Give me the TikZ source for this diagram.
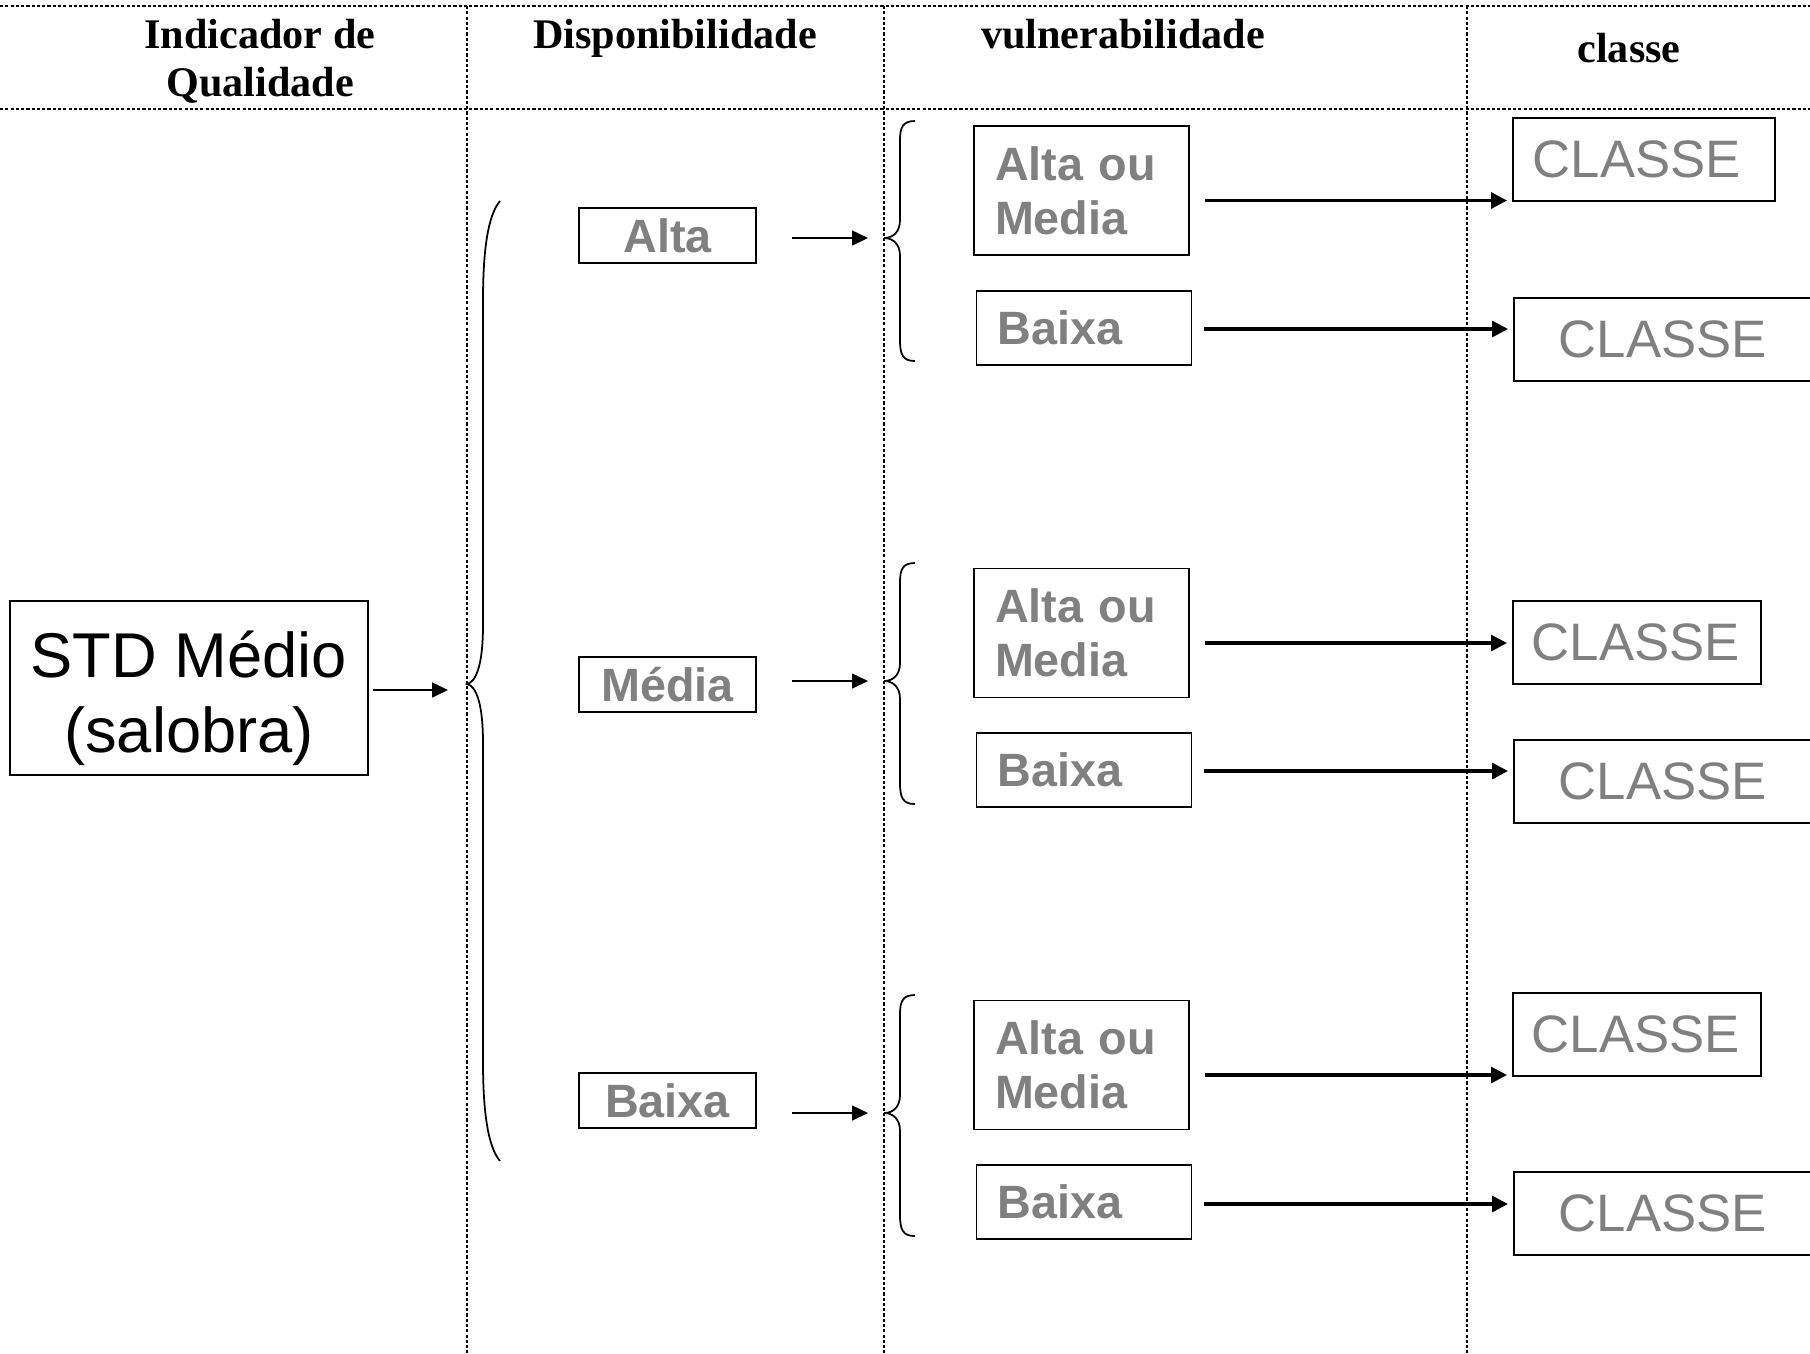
\documentclass[tikz,border=0pt]{standalone}
\usepackage{fontspec}
\setmainfont{Liberation Sans}
\newfontfamily\headfont{Liberation Serif}
\usetikzlibrary{arrows.meta,calc}
\definecolor{boxgray}{RGB}{128,128,128}

\begin{document}
\begin{tikzpicture}[
  grid/.style={line width=0.6pt, dash pattern=on 0.9pt off 0.6pt},
  head/.style={font=\headfont\bfseries\fontsize{12}{13.7}\selectfont, align=center},
  level/.style={draw, line width=0.5pt, inner sep=0pt, minimum width=1.77cm, minimum height=0.55cm,
    text=boxgray, font=\bfseries\fontsize{13.3}{15.4}\selectfont},
  vul/.style={draw, line width=0.5pt, inner xsep=0.21cm, inner ysep=0pt, text width=1.73cm, align=left,
    text=boxgray, font=\bfseries\fontsize{13.3}{15.4}\selectfont},
  cls/.style={draw, line width=0.5pt, inner ysep=0pt, minimum height=0.83cm, anchor=west, align=left,
    text=boxgray, font=\fontsize{15}{18}\selectfont},
  arr/.style={-{Triangle[length=0.16cm,width=0.15cm]}, line width=0.45pt},
  thickarr/.style={-{Triangle[length=0.16cm,width=0.16cm]}, line width=0.9pt},
  brace/.style={line width=0.5pt}
]
  \clip (0,0) rectangle (18.10,-13.53);

  % table lines
  \draw[grid] (0,-0.06) -- (18.10,-0.06);
  \draw[grid] (0,-1.09) -- (18.10,-1.09);
  \draw[grid] (4.67,-0.06) -- (4.67,-13.53);
  \draw[grid] (8.84,-0.06) -- (8.84,-13.53);
  \draw[grid] (14.67,-0.06) -- (14.67,-13.53);

  % headers
  \node[head] (hInd) at (2.60,-0.61) {Indicador de\\Qualidade};
  \node[head] (hDisp) at (6.75,-0.38) {Disponibilidade};
  \node[head] (hVul) at (11.23,-0.34) {vulnerabilidade};
  \node[head] (hCls) at (16.29,-0.48) {classe};

  % quality indicator
  \node[draw, line width=0.5pt, minimum width=3.58cm, minimum height=1.74cm, inner sep=0pt] (std) at (1.89,-6.88) {};
  \node[align=center, font=\fontsize{18}{21.3}\selectfont] (stdText) at ($(std)+(0,-0.10)$) {STD Médio\\(salobra)};

  % big brace
  \coordinate (bigTip) at (4.67,-6.84);
  \draw[brace] (5.00,-2.01) .. controls (4.88,-2.15) and (4.83,-2.50) .. (4.83,-3.00)
    -- (4.83,-6.25) .. controls (4.83,-6.65) and (4.76,-6.82) .. (bigTip)
    .. controls (4.76,-6.86) and (4.83,-7.03) .. (4.83,-7.43)
    -- (4.83,-10.62) .. controls (4.83,-11.12) and (4.88,-11.47) .. (5.00,-11.61);
  \draw[arr, shorten >=0.19cm] ($(std.east)+(0.04,-0.02)$) -- ($(std.east -| bigTip)+(0,-0.02)$);

  % availability
  \node[level] (alta) at (6.675,-2.355) {Alta};
  \node[level] (media) at (6.675,-6.845) {Média};
  \node[level] (baixa) at (6.675,-11.005) {Baixa};

  % small braces
  \coordinate (tipA) at (8.84,-2.38);
  \coordinate (tipM) at (8.84,-6.81);
  \coordinate (tipB) at (8.84,-11.13);
  \draw[brace] (9.15,-1.21) .. controls (9.03,-1.21) and (9.00,-1.27) .. (9.00,-1.40)
    -- (9.00,-2.20) .. controls (9.00,-2.32) and (8.93,-2.38) .. (tipA)
    .. controls (8.93,-2.38) and (9.00,-2.44) .. (9.00,-2.56)
    -- (9.00,-3.40) .. controls (9.00,-3.55) and (9.03,-3.61) .. (9.15,-3.61);
  \draw[brace] (9.15,-5.63) .. controls (9.03,-5.63) and (9.00,-5.69) .. (9.00,-5.82)
    -- (9.00,-6.63) .. controls (9.00,-6.75) and (8.93,-6.81) .. (tipM)
    .. controls (8.93,-6.81) and (9.00,-6.87) .. (9.00,-6.99)
    -- (9.00,-7.83) .. controls (9.00,-7.98) and (9.03,-8.04) .. (9.15,-8.04);
  \draw[brace] (9.15,-9.95) .. controls (9.03,-9.95) and (9.00,-10.01) .. (9.00,-10.14)
    -- (9.00,-10.95) .. controls (9.00,-11.07) and (8.93,-11.13) .. (tipB)
    .. controls (8.93,-11.13) and (9.00,-11.19) .. (9.00,-11.31)
    -- (9.00,-12.15) .. controls (9.00,-12.30) and (9.03,-12.36) .. (9.15,-12.36);
  \draw[arr] ($(alta.east |- tipA)+(0.35,0)$) -- ($(tipA)+(-0.16,0)$);
  \draw[arr] ($(media.east |- tipM)+(0.35,0)$) -- ($(tipM)+(-0.16,0)$);
  \draw[arr] ($(baixa.east |- tipB)+(0.35,0)$) -- ($(tipB)+(-0.16,0)$);

  % vulnerability
  \node[vul, minimum height=1.29cm] (v1a) at (10.815,-1.905) {Alta ou\\Media};
  \node[vul, minimum height=0.74cm] (v1b) at (10.84,-3.28) {Baixa};
  \node[vul, minimum height=1.29cm] (v2a) at (10.815,-6.33) {Alta ou\\Media};
  \node[vul, minimum height=0.74cm] (v2b) at (10.84,-7.70) {Baixa};
  \node[vul, minimum height=1.29cm] (v3a) at (10.815,-10.65) {Alta ou\\Media};
  \node[vul, minimum height=0.74cm] (v3b) at (10.84,-12.02) {Baixa};

  % classes
  \node[cls, inner xsep=0.20cm, text width=2.22cm] (c1) at (15.12,-1.595) {CLASSE};
  \node[cls, inner xsep=0.45cm, text width=2.10cm] (c2) at (15.13,-3.395) {CLASSE};
  \node[cls, inner xsep=0.19cm, text width=2.10cm] (c3) at (15.12,-6.425) {CLASSE};
  \node[cls, inner xsep=0.45cm, text width=2.10cm] (c4) at (15.13,-7.815) {CLASSE};
  \node[cls, inner xsep=0.19cm, text width=2.10cm] (c5) at (15.12,-10.345) {CLASSE};
  \node[cls, inner xsep=0.45cm, text width=2.10cm] (c6) at (15.13,-12.135) {CLASSE};

  \draw[thickarr] ($(v1a.east)+(0.15,-0.10)$) -- ($(v1a.east -| c1.west)+(-0.05,-0.10)$);
  \draw[thickarr] ($(v1b.east)+(0.12,-0.01)$) -- ($(v1b.east -| c2.west)+(-0.05,-0.01)$);
  \draw[thickarr] ($(v2a.east)+(0.15,-0.10)$) -- ($(v2a.east -| c3.west)+(-0.05,-0.10)$);
  \draw[thickarr] ($(v2b.east)+(0.12,-0.01)$) -- ($(v2b.east -| c4.west)+(-0.05,-0.01)$);
  \draw[thickarr] ($(v3a.east)+(0.15,-0.10)$) -- ($(v3a.east -| c5.west)+(-0.05,-0.10)$);
  \draw[thickarr] ($(v3b.east)+(0.12,-0.02)$) -- ($(v3b.east -| c6.west)+(-0.05,-0.02)$);
\end{tikzpicture}
\end{document}
